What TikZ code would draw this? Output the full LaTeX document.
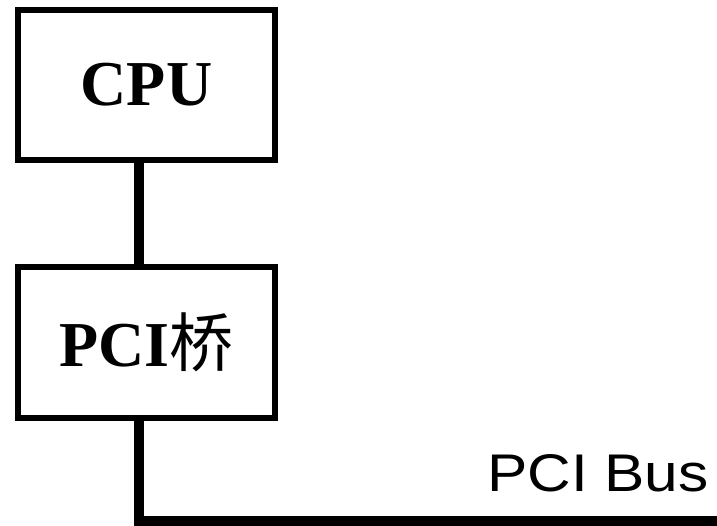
\documentclass[tikz,border=0pt]{standalone}
\usepackage{fontspec}
\usepackage{graphicx}
\setmainfont{Liberation Serif}
\newfontfamily\cjkfont{Noto Sans CJK SC}
\newfontfamily\arialfont{Liberation Sans}
\begin{document}
\begin{tikzpicture}[x=1pt,y=-1pt,
  box/.style={draw, line width=6pt, minimum width=257pt, minimum height=150pt, inner sep=0pt,
    font=\fontsize{64}{64}\selectfont\bfseries},
  bus/.style={line width=10pt},
  buslabel/.style={font=\arialfont\fontsize{53}{53}\selectfont, inner sep=0pt, anchor=base west}]
\useasboundingbox (0,0) rectangle (717,526);
\node[box] (cpu) at (146.5,85) {CPU};
\node[box] (pci) at (146.5,342.5) {PCI{\cjkfont\mdseries 桥}};
\coordinate (end) at (717,521);
\draw[bus] ([xshift=-7.5pt]cpu.south) -- ([xshift=-7.5pt]pci.north);
\draw[bus] ([xshift=-7.5pt]pci.south) |- (end);
\node[buslabel] (label) at (487,491) {\scalebox{1.14}[1]{PCI Bus}};
\end{tikzpicture}
\end{document}
